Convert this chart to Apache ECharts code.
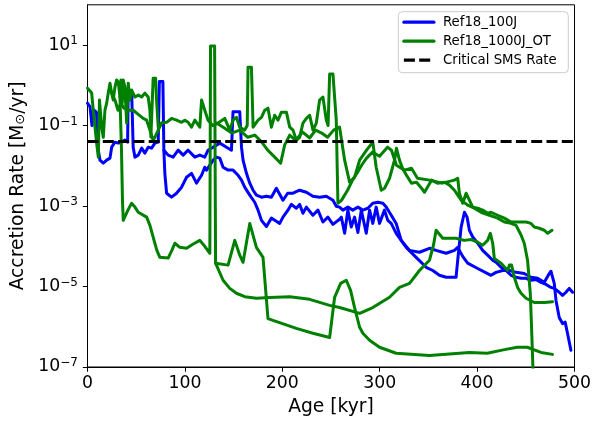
<!DOCTYPE html>
<html>
<head>
<meta charset="utf-8">
<script src="https://cdn.jsdelivr.net/npm/echarts@6/dist/echarts.min.js"></script>
<style>
html,body{margin:0;padding:0;background:#ffffff;}
#chart{width:594px;height:422px;}
</style>
</head>
<body>
<div id="chart"></div>
<script>
// ---------------- data (x: Age [kyr], y: Accretion rate [Msun/yr]) ----------------
const xTicks = [0, 100, 200, 300, 400, 500];
const yTicks = [1e-7, 1e-5, 1e-3, 1e-1, 1e1];
const seriesNames = ['Ref18_100J', 'Ref18_1000J_OT', 'Critical SMS Rate'];
const criticalSMSRate = 0.04;

// Ref18_100J : first branch
const ref100J_branch1 = [
  [0,0.36],[2.6,0.29],[4.6,0.10],[6.7,0.24],[9.2,0.215],[11.1,0.0244],[12.8,0.0138],[16.2,0.0116],
  [19.7,0.0138],[23.1,0.0155],[24.8,0.029],[28.2,0.0386],[31.6,0.0365],[35.1,0.0386],[38.4,0.0434],
  [41.2,0.0386],[41.8,0.73],[45.3,0.73],[46.9,0.029],[48.7,0.0164],[52.1,0.0184],[55.6,0.0274],
  [58.9,0.0206],[62.3,0.029],[65.8,0.0274],[69.2,0.0365],[72.6,0.0386],[73.8,1.24],[77.4,1.24],
  [78.4,0.0244],[82.8,0.0184],[87.9,0.0164],[93.1,0.0244],[98.2,0.0184],[103.3,0.0244],[110.2,0.0164],
  [115.3,0.0184],[120.4,0.0164],[123.8,0.0244],[129,0.029],[135.8,0.0365],[142.7,0.029],[147.8,0.0244],
  [149.4,0.22],[156.3,0.22],[158.1,0.029],[159.7,0.0138],[163.2,0.0065],[166.6,0.0037],[170,0.00247],
  [173.4,0.00186],[178.6,0.00166],[183.7,0.00175],[188.8,0.00166],[193.9,0.00277],[200.7,0.00139],
  [205.5,0.00208],[211,0.00208],[217.8,0.00247],[224.7,0.0022],[231.4,0.00175],[238.3,0.00166],
  [245.2,0.00175],[252,0.00139],[255.4,0.00099],[258.8,0.00094],[262.2,0.00079],[267.3,0.00094],
  [272.4,0.00079],[277.6,0.00094],[282.7,0.00079],[287.8,0.00088],[292.9,0.00117],[298.1,0.00124],
  [303.2,0.00117],[306.7,0.00094],[310,0.0007],[316.9,0.00037],[322.1,0.00014],[330.6,7.9e-5],
  [340.8,7.1e-5],[351.1,8.9e-5],[357.9,7.9e-5],[368.2,6.7e-5],[376.7,7.9e-5],[380.1,9.4e-5],
  [385.2,5.6e-5],[390.3,3.8e-5],[400.6,2.8e-5],[410.8,2.1e-5],[414.3,1.9e-5],[419.4,2.25e-5],
  [426.2,2.5e-5],[433.1,2.5e-5],[440,2.25e-5],[448.4,2.1e-5],[455.3,1.7e-5],[462.1,1.6e-5],
  [469,1.27e-5],[474.1,2.1e-5],[475.8,2.4e-5],[479.2,1.2e-5],[481,4.5e-6],[484.3,1.7e-6],
  [487.7,1.2e-6],[490.4,1.3e-6],[492.8,6.9e-7],[496.3,2.6e-7]
];

// Ref18_100J : second branch
const ref100J_branch2 = [
  [78.4,0.0244],[79.4,0.0065],[81.2,0.00208],[86.3,0.00166],[91.4,0.00208],[96.6,0.00294],
  [101.7,0.0052],[106.8,0.0065],[111.9,0.0037],[117.1,0.0058],[120.4,0.0092],[122.2,0.0078],
  [129,0.0138],[132.4,0.0164],[135.8,0.0155],[139.2,0.0092],[144.3,0.0078],[149.4,0.0078],
  [154.6,0.0058],[158.1,0.0044],[161.4,0.00294],[166.6,0.00186],[171.7,0.00124],[175.1,0.00079],
  [178.6,0.00044],[183.7,0.00031],[188.8,0.0005],[193.9,0.00042],[197.3,0.00037],[200.7,0.00053],
  [205.8,0.00079],[209.3,0.0011],[214.4,0.00088],[217.8,0.0011],[221.2,0.00066],[224.7,0.00094],
  [231.4,0.00059],[236.6,0.00079],[241.7,0.0004],[246.8,0.00053],[252,0.00035],[258.8,0.00047],
  [260.6,0.00053],[264,0.00021],[267.3,0.00079],[270.8,0.0003],[274.2,0.00053],[277.6,0.00022],
  [281.1,0.00079],[286.2,0.00021],[289.6,0.00079],[292.9,0.00037],[296.4,0.00094],[299.8,0.00037],
  [304.9,0.00079],[308.3,0.00044],[311.8,0.00037],[316.9,0.00021],[327.2,9.4e-5],[337.4,5.3e-5],
  [347.7,3.0e-5],[354.5,2.5e-5],[361.3,1.9e-5],[368.2,1.7e-5],[378.4,1.7e-5],[380.1,4.5e-5],
  [383.6,3.0e-4],[387,7.0e-4],[389.7,5.3e-4],[392.1,2.5e-4],[395.5,1.7e-4],[400.6,1.19e-4],
  [405.7,7.9e-5],[410.8,6.0e-5],[416,4.5e-5],[419.4,4.0e-5],[424.6,3.0e-5],[429.7,2.5e-5],
  [434.8,1.9e-5],[440,1.7e-5],[445.1,1.6e-5],[450.2,1.6e-5],[455.3,1.43e-5],[460.4,1.5e-5],
  [465.6,1.27e-5],[470.7,1.13e-5],[475.8,9.5e-6],[479.2,9.0e-6],[484.3,7.2e-6],[487.7,6.0e-6],
  [491.2,7.2e-6],[494.6,9.0e-6],[498,7.2e-6]
];

// Ref18_1000J_OT : upper noisy branch
const ref1000J_branch1 = [
  [0,0.85],[4.3,0.64],[5.9,0.24],[7.7,0.091],[9.4,0.036],[11.1,0.0164],[12.3,0.43],[13.3,0.48],
  [14.6,0.091],[16.2,0.051],[17.9,0.24],[19.7,0.36],[21.3,0.64],[23.1,1.13],[24.8,0.64],[26.4,0.43],
  [28.2,0.9],[29.9,1.35],[31.6,1.2],[33.3,0.51],[34.3,1.35],[35.7,0.36],[36.7,1.35],[38.4,0.9],
  [40.2,0.115],[41.8,1.13],[43.6,0.43],[45.3,0.76],[48.7,0.51],[52.1,0.57],[55.6,0.51],[58.9,0.64],
  [62.3,0.51],[64.1,0.24],[65.1,0.051],[67.4,1.5],[69.9,1.5],[70.9,0.43],[72.6,0.091],[76.1,0.115],
  [81.2,0.12],[86.3,0.15],[91.4,0.136],[96.6,0.12],[99.9,0.136],[103.3,0.12],[106.8,0.091],
  [110.2,0.136],[115.3,0.091],[117.1,0.43],[120.4,0.24],[123.8,0.136],[125.6,0.136],[128.6,0.1],
  [134.1,0.115],[140.9,0.15],[146.1,0.077],[149.4,0.136],[152.9,0.16],[156.3,0.091],[161.4,0.077],
  [164,0.1],[164.8,2.8],[168.3,2.8],[170,0.091],[175.1,0.136],[178.6,0.16],[182,0.24],[185.3,0.27],
  [188.8,0.091],[192.2,0.18],[195.6,0.136],[199.1,0.215],[204.2,0.215],[207.6,0.091],[211,0.077],
  [214.4,0.043],[217.8,0.051],[221.2,0.115],[224.7,0.15],[228.1,0.18],[231.5,0.077],[234.9,0.115],
  [238.3,0.43],[241.7,0.51],[245.2,0.136],[247,0.1],[248.6,1.9],[252,1.9],[255.4,0.136],
  [257.1,0.00117],[260.9,0.0014],[267,0.00247],[272.1,0.0044],[277.3,0.0069],[281.4,0.0103],
  [286.5,0.0155],[292.6,0.0218],[299.8,0.0173],[308,0.029],[312.1,0.0244],[317.2,0.0103],
  [325.4,0.0078],[332.6,0.0087],[338.8,0.0049],[351.1,0.0044],[364.4,0.0037],[376.7,0.0044],
  [380.1,0.0049],[381.8,0.00208],[385.2,0.00117],[388.7,0.00208],[392.1,0.0014],[395.5,0.00094],
  [400.6,0.00088],[405.7,0.00079],[410.8,0.00066],[414.3,0.0007],[421.1,0.00059],[428,0.0005],
  [434.8,0.0004],[440,0.0004],[450.2,0.0004],[455.3,0.00037],[458.7,0.0003],[463.8,0.00028],
  [469,0.00025],[472.4,0.00021],[476.9,0.00025]
];

// Ref18_1000J_OT : second strand inside the upper band (early part)
const ref1000J_branch2a = [
  [24.8,0.64],[28.2,0.43],[31.3,0.24],[34.3,0.36],[37.4,0.27],[41.8,0.24],[46.9,0.24],[52.1,0.19],
  [57.2,0.15],[60.7,0.136],[64.1,0.077],[67.4,0.043],[69.2,0.051],[72.6,0.077],[76.1,0.115]
];

// Ref18_1000J_OT : second strand (later part, drops below 1e-7 near 457 kyr)
const ref1000J_branch2b = [
  [132.4,0.115],[140.9,0.086],[148.1,0.065],[156.3,0.077],[164.5,0.051],[171.7,0.058],[178.9,0.0386],
  [185,0.0244],[192.2,0.0164],[198.3,0.0116],[202.4,0.0325],[207.6,0.058],[213.7,0.043],[220.9,0.069],
  [228.1,0.049],[234.2,0.077],[240.4,0.065],[246.5,0.051],[252.7,0.077],[258.8,0.091],[264,0.0138],
  [269.1,0.0039],[274.2,0.0052],[279.4,0.0138],[286.5,0.0244],[292.9,0.0386],[296.4,0.0092],
  [301.6,0.00247],[305,0.00277],[310.1,0.0049],[315.2,0.0138],[317.2,0.0274],[320.3,0.0138],
  [323.4,0.0087],[327.5,0.0058],[332.6,0.0037],[337.8,0.0039],[342.9,0.00277],[346,0.0022],
  [353.2,0.0044],[359.3,0.0037],[366.5,0.0039],[371.6,0.0033],[376.7,0.00247],[383.6,0.0014],
  [390.3,0.00105],[397.2,0.00088],[404,0.0007],[412.6,0.00059],[421.1,0.0005],[428,0.0004],
  [434.8,0.00037],[440,0.00033],[445.1,0.00019],[448.4,0.000119],[451.8,4.5e-5],[454.6,6.8e-6],
  [455.9,9.7e-7],[457.7,5e-8]
];

// Ref18_1000J_OT : low branch (big spike near 128 kyr, bottom tail near 2e-7)
const ref1000J_branch3 = [
  [33.3,0.51],[34.9,0.0244],[35.9,0.0014],[36.7,0.00044],[38.4,0.0004],[41.5,0.00079],[45.3,0.00117],
  [48.7,0.00094],[52.1,0.0007],[60.7,0.00053],[64.1,0.00033],[67.4,0.000168],[71.2,7.9e-5],
  [74.3,5.3e-5],[82.8,5.1e-5],[86.6,7.9e-5],[89.7,1.19e-4],[94.8,9.4e-5],[101.7,8.9e-5],
  [108.1,1.12e-4],[115.3,1.4e-4],[120.4,1.0e-4],[125.6,6.7e-5],[126.3,9.5],[130.5,9.5],[131.5,3.8e-5],
  [144.3,3.4e-5],[151.2,1.4e-4],[156.3,6.0e-5],[159.7,4.0e-5],[166.6,3.7e-4],[173.4,9.4e-5],
  [180.2,5.3e-5],[185.3,1.6e-6],[190.4,1.44e-6],[214.4,9.1e-7],[231.4,6.9e-7],[248.6,5.4e-7],
  [253.7,5.4e-6],[259.9,1.2e-5],[265.7,1.43e-5],[270.1,8.0e-6],[274.2,3.0e-6],[279.4,9.7e-7],
  [282.7,6.9e-7],[289.6,4.6e-7],[299.8,3.1e-7],[316.9,2.2e-7],[351.1,1.94e-7],[392.1,2.3e-7],
  [410.5,2.2e-7],[428,2.7e-7],[441.3,3.1e-7],[451.5,3.1e-7],[465.6,2.3e-7],[477.4,2.06e-7]
];

// Ref18_1000J_OT : smooth branch from the spike (~5e-6 plateau, bump near 358 kyr)
const ref1000J_branch4 = [
  [131.5,3.8e-5],[139.2,1.43e-5],[146.1,9.0e-6],[152.9,6.8e-6],[161.4,5.6e-6],[173.4,5.1e-6],
  [187.1,5.3e-6],[207.6,5.6e-6],[228.1,4.8e-6],[248.6,3.4e-6],[258.8,3.0e-6],[279.4,2.15e-6],
  [292.9,3.0e-6],[310.1,5.4e-6],[320.3,9.5e-6],[330.6,1.2e-5],[340.8,2.5e-5],[351.1,4.5e-5],
  [355.2,1.06e-4],[357.9,2.5e-4],[364.7,1.58e-4],[378.4,1.58e-4],[386.9,1.4e-4],[393.8,1.47e-4],
  [400.6,1.26e-4],[405.7,1.06e-4],[410.8,1.4e-4],[413.6,2.1e-4],[416,1.19e-4],[417.7,5.0e-5],
  [424.6,3.8e-5],[431.4,2.5e-5],[433.1,3.4e-5],[435.4,3.4e-5],[438.2,1.7e-5],[441.6,9.5e-6],
  [445.1,6.8e-6],[450.2,5.1e-6],[458.7,4.0e-6],[469,4.0e-6],[477.4,4.2e-6]
];

const criticalLine = [[0, criticalSMSRate], [500, criticalSMSRate]];

// ---------------- chart ----------------
const FONT = 'DejaVu Sans';
const BLUE = '#0000ff';
const GREEN = '#008000';

function lineSeries(name, data, color, z) {
  return {
    type: 'line', name: name, data: data,
    symbol: 'none', showSymbol: false, smooth: false, clip: true, z: z,
    lineStyle: { color: color, width: 3, join: 'round', cap: 'round' },
    itemStyle: { color: color },
    emphasis: { disabled: true },
    animation: false
  };
}

function expLabel(v) {
  const e = Math.round(Math.log10(v));
  return '{b|10}{s|' + (e < 0 ? '\u2212' : '') + Math.abs(e) + '}';
}

const chart = echarts.init(document.getElementById('chart'), null, { renderer: 'canvas' });

const option = {
  animation: false,
  backgroundColor: '#ffffff',
  grid: {
    left: 87.5, right: 18.7, top: 4.8, bottom: 54.3,
    show: true, borderColor: '#000000', borderWidth: 1, backgroundColor: 'transparent'
  },
  legend: {
    data: seriesNames,
    orient: 'vertical',
    right: 25.7, top: 11.7,
    itemWidth: 30, itemHeight: 14, itemGap: 6,
    padding: [4, 11.6, 6, 4],
    borderColor: '#cccccc', borderWidth: 1, borderRadius: 4,
    backgroundColor: 'rgba(255,255,255,0.8)',
    selectedMode: false,
    itemStyle: { color: 'transparent', borderColor: 'transparent', borderWidth: 0, opacity: 0 },
    lineStyle: { width: 3.2 },
    textStyle: { fontFamily: FONT, fontSize: 13.3, color: '#000000', padding: [0, 0, 0, 4] }
  },
  xAxis: {
    type: 'value', min: 0, max: 500, interval: 100,
    name: 'Age [kyr]', nameLocation: 'middle', nameGap: 31,
    nameTextStyle: { fontFamily: FONT, fontSize: 18.7, color: '#000000' },
    axisLine: { show: true, onZero: false, lineStyle: { color: '#000000', width: 1 } },
    axisTick: { show: true, inside: false, length: 4.7, lineStyle: { color: '#000000', width: 1 }, customValues: xTicks },
    axisLabel: { fontFamily: FONT, fontSize: 17.3, color: '#000000', margin: 8, customValues: xTicks },
    splitLine: { show: false }
  },
  yAxis: {
    type: 'log', logBase: 10, min: 1e-7, max: 100,
    name: 'Accretion Rate [M{sub|\u2299}/yr]', nameLocation: 'middle', nameGap: 52, nameRotate: 90,
    nameTextStyle: {
      fontFamily: FONT, fontSize: 18.7, color: '#000000',
      rich: { sub: { fontFamily: FONT, fontSize: 13, color: '#000000', verticalAlign: 'bottom' } }
    },
    axisLine: { show: true, onZero: false, lineStyle: { color: '#000000', width: 1 } },
    axisTick: { show: true, inside: false, length: 4.7, lineStyle: { color: '#000000', width: 1 }, customValues: yTicks },
    axisLabel: {
      margin: 9.5, customValues: yTicks,
      formatter: expLabel,
      rich: {
        b: { fontFamily: FONT, fontSize: 17.3, lineHeight: 20, color: '#000000' },
        s: { fontFamily: FONT, fontSize: 12, lineHeight: 12, verticalAlign: 'top', color: '#000000' }
      }
    },
    minorTick: { show: false },
    splitLine: { show: false }
  },
  series: [
    lineSeries('Ref18_100J', ref100J_branch1, BLUE, 2),
    lineSeries('Ref18_100J', ref100J_branch2, BLUE, 2),
    lineSeries('Ref18_1000J_OT', ref1000J_branch1, GREEN, 3),
    lineSeries('Ref18_1000J_OT', ref1000J_branch2a, GREEN, 3),
    lineSeries('Ref18_1000J_OT', ref1000J_branch2b, GREEN, 3),
    lineSeries('Ref18_1000J_OT', ref1000J_branch3, GREEN, 3),
    lineSeries('Ref18_1000J_OT', ref1000J_branch4, GREEN, 3),
    {
      type: 'line', name: 'Critical SMS Rate', data: criticalLine,
      symbol: 'none', showSymbol: false, clip: true, z: 4,
      lineStyle: { color: '#000000', width: 3, type: [11, 4.3], cap: 'butt' },
      itemStyle: { color: '#000000' },
      emphasis: { disabled: true },
      animation: false
    }
  ]
};

chart.setOption(option);
</script>
</body>
</html>
